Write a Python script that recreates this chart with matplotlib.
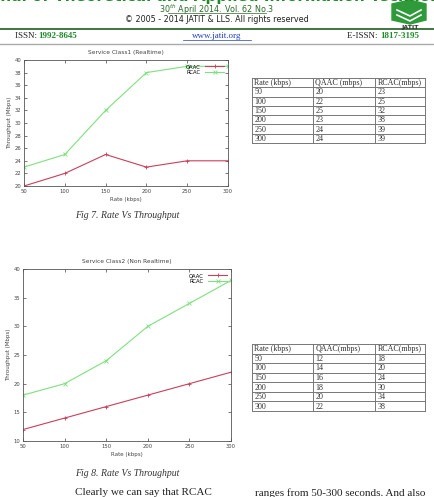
import matplotlib
matplotlib.use("Agg")
import matplotlib.pyplot as plt
from matplotlib.patches import Polygon

W, H = 435, 497

rate = [50, 100, 150, 200, 250, 300]
qaac1 = [20, 22, 25, 23, 24, 24]
rcac1 = [23, 25, 32, 38, 39, 39]
qaac2 = [12, 14, 16, 18, 20, 22]
rcac2 = [18, 20, 24, 30, 34, 38]

head1 = ["Rate (kbps)", "QAAC (mbps)", "RCAC(mbps)"]
head2 = ["Rate (kbps)", "QAAC(mbps)", "RCAC(mbps)"]

RED = "#c8405a"
GRN = "#7fe07f"
DKGRN = "#1f8a2a"
SERIF = "Liberation Serif"


def box(x0, y0, x1, y1):
    return [x0 / W, 1 - y1 / H, (x1 - x0) / W, (y1 - y0) / H]


fig = plt.figure(figsize=(W / 100, H / 100), dpi=100)
page = fig.add_axes([0, 0, 1, 1])
page.set_xlim(0, W)
page.set_ylim(H, 0)
page.axis("off")

# page header (journal name is cut by the top edge, like the scan)
page.text(217, 4, "Journal of Theoretical and Applied Information Technology",
          ha="center", va="bottom", fontsize=11, fontweight="bold", color=DKGRN)
page.text(217, 9.5, "30$^{th}$ April 2014. Vol. 62 No.3", ha="center", va="center",
          fontsize=5.8, color="#2a6a2a")
page.plot([168, 266], [13.2, 13.2], color="#2a6a2a", lw=0.5)
page.text(217, 20, "\u00a9 2005 - 2014 JATIT & LLS. All rights reserved",
          ha="center", va="center", fontsize=5.8, color="#222222")
page.plot([0, 435], [28.5, 28.5], color="#2f6b2f", lw=1.3)
page.text(15, 35.5, "ISSN: ", ha="left", va="center", fontsize=6.5,
          family=SERIF, color="#222222")
page.text(38, 35.5, "1992-8645", ha="left", va="center", fontsize=6.5,
          family=SERIF, color=DKGRN, fontweight="bold")
page.text(217, 35.5, "www.jatit.org", ha="center", va="center", fontsize=6.5,
          family=SERIF, color="#2040c0")
page.plot([183, 251], [39.5, 39.5], color="#2040c0", lw=0.5)
page.text(380, 35.5, "E-ISSN: ", ha="right", va="center", fontsize=6.5,
          family=SERIF, color="#222222")
page.text(380, 35.5, "1817-3195", ha="left", va="center", fontsize=6.5,
          family=SERIF, color=DKGRN, fontweight="bold")
page.plot([0, 435], [43.5, 43.5], color="#aaaaaa", lw=1.0)

# logo
page.add_patch(Polygon([[392, 4], [410, 0], [426, 4], [426, 20], [410, 24], [392, 20]],
                       closed=True, color="#2f9a3a"))
page.plot([397, 410, 421], [10, 16, 10], color="white", lw=1.2)
page.plot([397, 410, 421], [15, 21, 15], color="white", lw=1.2)
page.text(410, 27, "JATIT", ha="center", va="center", fontsize=4.5,
          fontweight="bold", color="#333333")

# captions and body text
page.text(75, 215, "Fig 7. Rate Vs Throughput", ha="left", va="center",
          fontsize=7, family=SERIF, style="italic", color="#333333")
page.text(75, 474, "Fig 8. Rate Vs Throughput", ha="left", va="center",
          fontsize=7, family=SERIF, style="italic", color="#333333")
page.text(75, 488, "Clearly we can say that RCAC", ha="left", va="top",
          fontsize=8, family=SERIF, color="#222222")
page.text(425, 488, "ranges from 50-300 seconds. And also", ha="right", va="top",
          fontsize=8, family=SERIF, color="#222222")


def table(y0, y1, head, a, b):
    xs = [252, 313, 375, 425]
    n = len(a) + 1
    rh = (y1 - y0) / n
    for i in range(n + 1):
        page.plot([xs[0], xs[-1]], [y0 + i * rh] * 2, color="#777777", lw=0.7)
    for x in xs:
        page.plot([x, x], [y0, y1], color="#777777", lw=0.7)
    rows = [head] + [[str(r), str(p), str(q)] for r, p, q in zip(rate, a, b)]
    for i, row in enumerate(rows):
        for j, t in enumerate(row):
            page.text(xs[j] + 2.5, y0 + (i + 0.55) * rh, t, ha="left", va="center",
                      fontsize=5.8, family=SERIF, color="#333333")


table(78, 143, head1, qaac1, rcac1)
table(344, 411, head2, qaac2, rcac2)


def chart(bounds, title, q, r, yticks):
    ax = fig.add_axes(bounds)
    ax.plot(rate, q, color=RED, lw=0.8, marker="+", ms=3, mew=0.6, label="QAAC")
    ax.plot(rate, r, color=GRN, lw=0.8, marker="x", ms=2.5, mew=0.6, label="RCAC")
    ax.set_xlim(50, 300)
    ax.set_ylim(yticks[0], yticks[-1])
    ax.set_xticks(rate)
    ax.set_yticks(yticks)
    ax.tick_params(direction="in", top=True, right=True, labelsize=3.8,
                   length=2.5, width=0.5, pad=2, colors="#444444")
    for s in ax.spines.values():
        s.set_linewidth(0.6)
        s.set_color("#555555")
    ax.set_title(title, fontsize=4.2, color="#444444", pad=4)
    ax.set_xlabel("Rate (kbps)", fontsize=4, color="#444444", labelpad=2)
    ax.set_ylabel("Throughput (Mbps)", fontsize=4, color="#444444", labelpad=2)
    ax.legend(loc="upper right", fontsize=3.8, frameon=False, markerfirst=False,
              handlelength=3.5, handletextpad=0.8, borderpad=0.3, labelspacing=0.1)
    return ax


chart(box(24, 60, 228, 186), "Service Class1 (Realtime)", qaac1, rcac1,
      list(range(20, 41, 2)))
chart(box(23, 269, 231, 441), "Service Class2 (Non Realtime)", qaac2, rcac2,
      list(range(10, 41, 5)))

fig.savefig("out.png", dpi=100)
